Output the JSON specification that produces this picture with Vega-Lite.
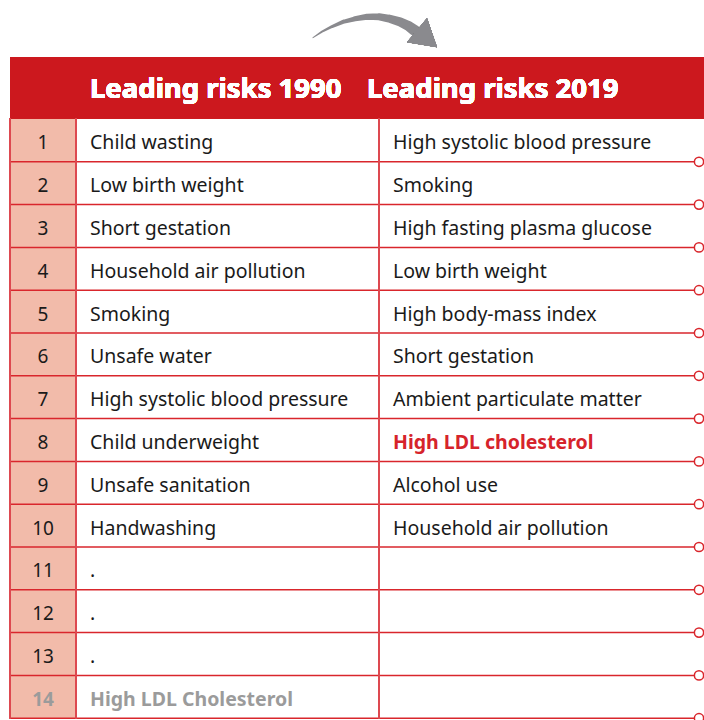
{
  "$schema": "https://vega.github.io/schema/vega-lite/v6.json",
  "width": 704,
  "height": 720,
  "padding": 0,
  "background": "white",
  "config": {"view": {"stroke": null}},
  "datasets": {
    "risks": [
      {"rank": 1, "r1990": "Child wasting", "r2019": "High systolic blood pressure"},
      {"rank": 2, "r1990": "Low birth weight", "r2019": "Smoking"},
      {"rank": 3, "r1990": "Short gestation", "r2019": "High fasting plasma glucose"},
      {"rank": 4, "r1990": "Household air pollution", "r2019": "Low birth weight"},
      {"rank": 5, "r1990": "Smoking", "r2019": "High body-mass index"},
      {"rank": 6, "r1990": "Unsafe water", "r2019": "Short gestation"},
      {"rank": 7, "r1990": "High systolic blood pressure", "r2019": "Ambient particulate matter"},
      {"rank": 8, "r1990": "Child underweight", "r2019": "High LDL cholesterol"},
      {"rank": 9, "r1990": "Unsafe sanitation", "r2019": "Alcohol use"},
      {"rank": 10, "r1990": "Handwashing", "r2019": "Household air pollution"},
      {"rank": 11, "r1990": ".", "r2019": ""},
      {"rank": 12, "r1990": ".", "r2019": ""},
      {"rank": 13, "r1990": ".", "r2019": ""},
      {"rank": 14, "r1990": "High LDL Cholesterol", "r2019": ""}
    ],
    "arrow": [
      {"ax": 313, "ay": -1.40, "w": 1},
      {"ax": 322, "ay": -1.54, "w": 2},
      {"ax": 332, "ay": -1.66, "w": 3},
      {"ax": 343, "ay": -1.77, "w": 4},
      {"ax": 355, "ay": -1.84, "w": 5},
      {"ax": 367, "ay": -1.89, "w": 6},
      {"ax": 379, "ay": -1.89, "w": 7},
      {"ax": 390, "ay": -1.84, "w": 8},
      {"ax": 400, "ay": -1.77, "w": 9},
      {"ax": 408, "ay": -1.68, "w": 10},
      {"ax": 414, "ay": -1.58, "w": 11},
      {"ax": 418, "ay": -1.51, "w": 11}
    ]
  },
  "data": {"name": "risks"},
  "encoding": {
    "y": {"field": "rank", "type": "quantitative", "scale": {"domain": [-2.28, 14.542], "reverse": true, "nice": false, "zero": false}, "axis": null}
  },
  "layer": [
    {
      "mark": {"type": "rect", "fill": "#F2BBAA"},
      "encoding": {
        "x": {"datum": 10, "type": "quantitative", "scale": {"domain": [0, 704], "nice": false, "zero": false}, "axis": null},
        "x2": {"datum": 76},
        "y": {"datum": 0.5, "type": "quantitative"},
        "y2": {"datum": 14.5}
      }
    },
    {
      "mark": {"type": "rect", "fill": "#CC181E"},
      "encoding": {
        "x": {"datum": 10, "type": "quantitative"},
        "x2": {"datum": 710},
        "y": {"datum": -0.95, "type": "quantitative"},
        "y2": {"datum": 0.48}
      }
    },
    {
      "mark": {"type": "rule", "stroke": "#D9262C", "strokeWidth": 1.5, "yOffset": 21.4},
      "encoding": {
        "x": {"datum": 10, "type": "quantitative"},
        "x2": {"datum": 694}
      }
    },
    {
      "mark": {"type": "rule", "stroke": "#DD4A50", "strokeWidth": 1.5},
      "encoding": {
        "x": {"datum": 10, "type": "quantitative"},
        "y": {"datum": 0.48, "type": "quantitative"},
        "y2": {"datum": 14.5}
      }
    },
    {
      "mark": {"type": "rule", "stroke": "#DD4A50", "strokeWidth": 1.5},
      "encoding": {
        "x": {"datum": 76, "type": "quantitative"},
        "y": {"datum": 0.48, "type": "quantitative"},
        "y2": {"datum": 14.5}
      }
    },
    {
      "mark": {"type": "rule", "stroke": "#DD4A50", "strokeWidth": 1.5},
      "encoding": {
        "x": {"datum": 379, "type": "quantitative"},
        "y": {"datum": 0.48, "type": "quantitative"},
        "y2": {"datum": 14.5}
      }
    },
    {
      "mark": {"type": "circle", "fill": "white", "stroke": "#D9262C", "strokeWidth": 1.5, "size": 85, "opacity": 1, "yOffset": 21.4},
      "encoding": {
        "x": {"datum": 699, "type": "quantitative"}
      }
    },
    {
      "transform": [{"filter": "datum.rank < 14"}],
      "mark": {"type": "text", "font": "Noto Sans", "fontSize": 19, "align": "center", "baseline": "middle", "dy": 3, "color": "#1A1A1A"},
      "encoding": {
        "x": {"datum": 43, "type": "quantitative"},
        "text": {"field": "rank"}
      }
    },
    {
      "transform": [{"filter": "datum.rank == 14"}],
      "mark": {"type": "text", "font": "Noto Sans", "fontSize": 19, "fontWeight": "bold", "align": "center", "baseline": "middle", "dy": 3, "color": "#9B9B9B"},
      "encoding": {
        "x": {"datum": 43, "type": "quantitative"},
        "text": {"field": "rank"}
      }
    },
    {
      "transform": [{"filter": "datum.rank < 14"}],
      "mark": {"type": "text", "font": "Noto Sans", "fontSize": 19.5, "align": "left", "baseline": "middle", "dy": 3, "color": "#1A1A1A"},
      "encoding": {
        "x": {"datum": 90, "type": "quantitative"},
        "text": {"field": "r1990"}
      }
    },
    {
      "transform": [{"filter": "datum.rank == 14"}],
      "mark": {"type": "text", "font": "Noto Sans", "fontSize": 19.5, "fontWeight": "bold", "align": "left", "baseline": "middle", "dy": 3, "color": "#9B9B9B"},
      "encoding": {
        "x": {"datum": 90, "type": "quantitative"},
        "text": {"field": "r1990"}
      }
    },
    {
      "transform": [{"filter": "datum.rank != 8"}],
      "mark": {"type": "text", "font": "Noto Sans", "fontSize": 19.5, "align": "left", "baseline": "middle", "dy": 3, "color": "#1A1A1A"},
      "encoding": {
        "x": {"datum": 393, "type": "quantitative"},
        "text": {"field": "r2019"}
      }
    },
    {
      "transform": [{"filter": "datum.rank == 8"}],
      "mark": {"type": "text", "font": "Noto Sans", "fontSize": 19.5, "fontWeight": "bold", "align": "left", "baseline": "middle", "dy": 3, "color": "#D6232B"},
      "encoding": {
        "x": {"datum": 393, "type": "quantitative"},
        "text": {"field": "r2019"}
      }
    },
    {
      "mark": {"type": "text", "font": "Noto Sans", "fontSize": 27.5, "fontWeight": "bold", "align": "left", "baseline": "middle", "dy": 3, "color": "white"},
      "encoding": {
        "x": {"datum": 90, "type": "quantitative"},
        "y": {"datum": -0.24, "type": "quantitative"},
        "text": {"value": "Leading risks 1990"}
      }
    },
    {
      "mark": {"type": "text", "font": "Noto Sans", "fontSize": 27.5, "fontWeight": "bold", "align": "left", "baseline": "middle", "dy": 3, "color": "white"},
      "encoding": {
        "x": {"datum": 367, "type": "quantitative"},
        "y": {"datum": -0.24, "type": "quantitative"},
        "text": {"value": "Leading risks 2019"}
      }
    },
    {
      "data": {"name": "arrow"},
      "mark": {"type": "trail", "color": "#8A8A8E", "opacity": 1},
      "encoding": {
        "x": {"field": "ax", "type": "quantitative"},
        "y": {"field": "ay", "type": "quantitative"},
        "order": {"field": "ax"},
        "size": {"field": "w", "type": "quantitative", "scale": null, "legend": null}
      }
    },
    {
      "mark": {"type": "point", "shape": "M2.66,2.26L0.66,-3.54L-3.34,1.26Z", "filled": true, "color": "#8A8A8E", "opacity": 1, "size": 100, "strokeWidth": 0},
      "encoding": {
        "x": {"datum": 423.7, "type": "quantitative"},
        "y": {"datum": -1.44, "type": "quantitative"}
      }
    }
  ]
}
